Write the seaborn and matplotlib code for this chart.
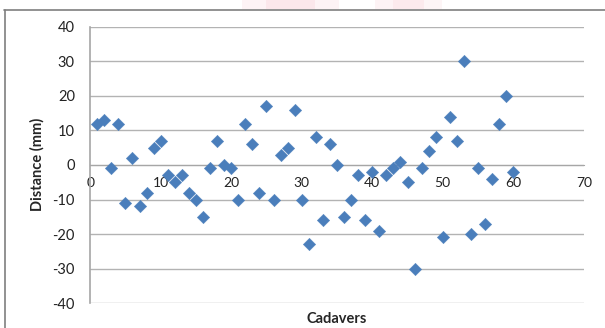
import numpy as np
import pandas as pd
import matplotlib
matplotlib.use("Agg")
import matplotlib.pyplot as plt
import seaborn as sns
from matplotlib.patches import Rectangle
from matplotlib.lines import Line2D

# values
cadavers = list(range(1, 61))
distance = [12, 13, -1, 12, -11, 2, -12, -8, 5, 7,
            -3, -5, -3, -8, -10, -15, -1, 7, 0, -1,
            -10, 12, 6, -8, 17, -10, 3, 5, 16, -10,
            -23, 8, -16, 6, 0, -15, -10, -3, -16, -2,
            -19, -3, -1, 1, -5, -30, -1, 4, 8, -21,
            14, 7, 30, -20, -1, -17, -4, 12, 20, -2]
x_ticks = [0, 10, 20, 30, 40, 50, 60, 70]
y_ticks = [-40, -30, -20, -10, 0, 10, 20, 30, 40]

df = pd.DataFrame({"Cadavers": cadavers, "Distance": distance})

sns.set_style("white")
plt.rcParams["font.family"] = ["Lato", "DejaVu Sans"]

fig = plt.figure(figsize=(6.05, 3.28), dpi=100, facecolor="white")
ax = fig.add_axes([0.149, 0.076, 0.816, 0.842])

grid_c = "#b3b3b3"
axis_c = "#a6a6a6"

sns.scatterplot(data=df, x="Cadavers", y="Distance", marker="D", s=40,
                color="#4a7ebb", edgecolor="#4a7ebb", linewidth=0.3, ax=ax, zorder=3)

ax.set_xlim(0, 70)
ax.set_ylim(-40, 40)
ax.set_yticks(y_ticks)
ax.set_xticks(x_ticks)
ax.set_yticklabels([str(v) for v in y_ticks], fontsize=10.5)
ax.set_xticklabels([str(v) for v in x_ticks], fontsize=10.5)

ax.yaxis.grid(True, color=grid_c, linewidth=1.0)
ax.xaxis.grid(False)
ax.set_axisbelow(True)

for side in ["top", "right"]:
    ax.spines[side].set_visible(False)
ax.spines["bottom"].set_position(("data", 0))
ax.spines["bottom"].set_color(axis_c)
ax.spines["left"].set_color(axis_c)
ax.spines["left"].set_linewidth(1.2)
ax.tick_params(axis="both", colors=axis_c, labelcolor="#222222", length=4, width=1, direction="out")
ax.tick_params(axis="x", pad=5)
ax.tick_params(axis="y", pad=7)

ax.set_xlabel("")
ax.set_ylabel("")
fig.text(0.557, 0.028, "Cadavers", ha="center", va="center", fontsize=10.5, fontweight="bold")
fig.text(0.062, 0.5, "Distance (mm)", ha="center", va="center", rotation=90,
         fontsize=10.5, fontweight="bold")

# chart area border (top and left visible) and faint watermark at top
fig.add_artist(Line2D([0.007, 1.0], [0.971, 0.971], transform=fig.transFigure, color="#7f7f7f", lw=1.2))
fig.add_artist(Line2D([0.008, 0.008], [0.0, 0.971], transform=fig.transFigure, color="#7f7f7f", lw=1.2))
for x0, w, a in [(0.40, 0.04, 0.12), (0.44, 0.08, 0.25), (0.52, 0.04, 0.12),
                 (0.62, 0.03, 0.12), (0.65, 0.05, 0.22), (0.70, 0.03, 0.10)]:
    fig.add_artist(Rectangle((x0, 0.973), w, 0.027, transform=fig.transFigure,
                             color="#f2a0b0", alpha=a, lw=0))

fig.savefig("out.png", dpi=100, facecolor="white")
